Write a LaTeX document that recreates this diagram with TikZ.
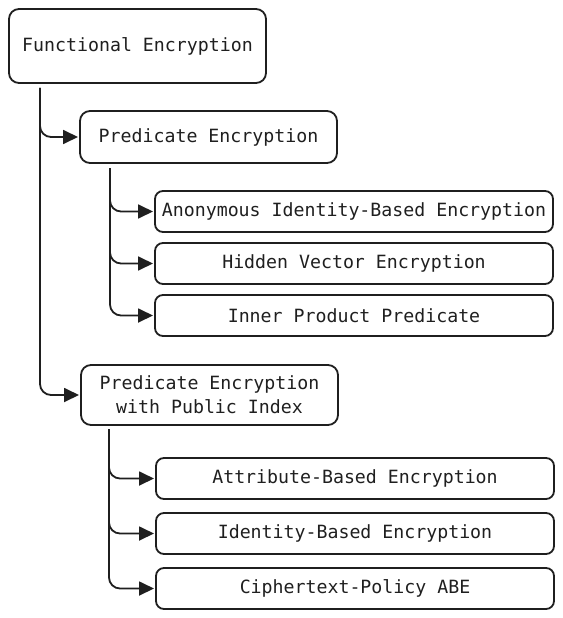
\documentclass[tikz,border=0pt]{standalone}
\usepackage{fontspec}
\setmainfont{DejaVu Sans Mono}
\usetikzlibrary{positioning, arrows.meta}
\tikzset{every picture/.style={line width=1.8bp},
	topbox/.style={draw, rounded corners=10bp, minimum width=257bp, align=center, inner sep=0pt, outer sep=0pt},
	leafbox/.style={draw, rounded corners=8bp, minimum width=398bp, minimum height=41bp, inner sep=0pt, outer sep=0pt},
	link/.style={-{Triangle[length=15bp,width=14bp]}, rounded corners=11bp, shorten >=2bp}}

\begin{document}
\begin{tikzpicture}[x=1bp, y=-1bp, font=\fontsize{18.3}{24}\selectfont, color={black!88}]
			\useasboundingbox (0,0) rectangle (563,618);
			\node[topbox, minimum height=74bp, anchor=north west]                 (fe)    at (9,9) {Functional Encryption};
		  \node[topbox, minimum height=52bp, below right=28bp and 71bp of fe.south west]   (pe)    {Predicate Encryption};
		  \node[leafbox, below right=28bp and 75bp of pe.south west]                     (anon)  {Anonymous Identity-Based Encryption};
		  \node[leafbox, below=11bp of anon]                                            (hve)   {Hidden Vector Encryption};
		  \node[leafbox, below=11bp of hve]                                             (ipp)   {Inner Product Predicate};
		  \node[topbox, minimum height=60bp, below right=29bp and -74bp of ipp.south west] (pepi)  {Predicate Encryption\\with Public Index};
		  \node[leafbox, below right=33bp and 75bp of pepi.south west]                   (abe)   {Attribute-Based Encryption};
		  \node[leafbox, below=14bp of abe]                                             (ibe)   {Identity-Based Encryption};
		  \node[leafbox, below=14bp of ibe]                                             (cpabe) {Ciphertext-Policy ABE};
		  
		  \coordinate (fe trunk)   at ([xshift=31bp,yshift=-5bp]fe.south west);
		  \coordinate (pe trunk)   at ([xshift=30bp,yshift=-5bp]pe.south west);
		  \coordinate (pepi trunk) at ([xshift=28bp,yshift=-4bp]pepi.south west);
		  
		  \draw[link] (fe trunk) |- (pe.west);
		  \draw[link] (fe trunk) |- (pepi.west);
		  \draw[link] (pe trunk) |- (anon.west);
		  \draw[link] (pe trunk) |- (hve.west);
		  \draw[link] (pe trunk) |- (ipp.west);
		  \draw[link] (pepi trunk) |- (abe.west);
		  \draw[link] (pepi trunk) |- (ibe.west);
		  \draw[link] (pepi trunk) |- (cpabe.west);
		
		\end{tikzpicture}
\end{document}
